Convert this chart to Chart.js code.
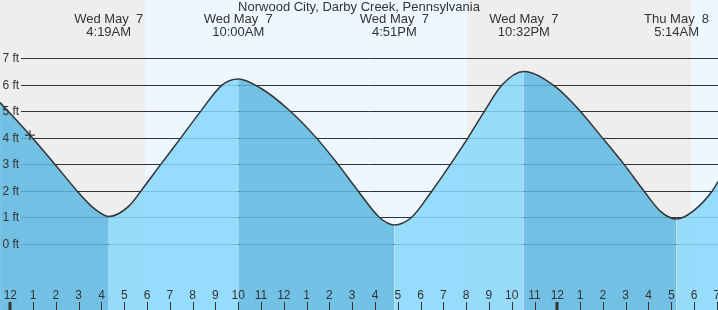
<!DOCTYPE html>
<html>
<head>
<meta charset="utf-8">
<script src="https://cdn.jsdelivr.net/npm/chart.js@4.4.1/dist/chart.umd.min.js"></script>
<style>
  body { margin: 0; background: #fff; }
  #wrap { width: 718px; height: 310px; position: relative; }
</style>
</head>
<body>
<div id="wrap"><canvas id="tideChart"></canvas></div>
<script>
// hours after midnight Wed May 7, and tide height (ft)
const tideHours = [-0.45, 0.86, 1.96, 2.91, 3.66, 4.32, 5.18, 5.87, 6.6, 7.48, 8.35, 9.3, 10.0,
    10.99, 12.19, 13.43, 14.38, 15.26, 16.2, 16.85, 17.6, 18.5, 19.31, 20.08, 20.8, 21.58, 22.53,
    23.91, 24.8, 25.98, 26.93, 27.8, 28.54, 29.23, 29.93, 30.8, 31.05];
const tideFeet = [5.33, 4.11, 3.0, 2.02, 1.35, 1.04, 1.41, 2.16, 3.0, 4.0, 5.0, 6.0, 6.22,
    5.87, 5.08, 4.0, 3.0, 2.0, 1.0, 0.72, 1.0, 2.0, 3.0, 4.0, 5.0, 6.0, 6.5,
    5.93, 5.2, 4.0, 3.0, 2.0, 1.22, 0.94, 1.22, 2.0, 2.35];

// high / low tide times shown at the top
const extremeHours = [4.317, 10.0, 16.85, 22.533, 29.233];
const extremeDays = ['Wed May  7', 'Wed May  7', 'Wed May  7', 'Wed May  7', 'Thu May  8'];
const extremeTimes = ['4:19AM', '10:00AM', '4:51PM', '10:32PM', '5:14AM'];

// current time marker
const nowHour = 0.86;
const nowFeet = 4.1;

// sunrise / sunset as [start, end] of daylight
const daylight = [[5.9, 20.04], [29.87, 40]];

const feetTicks = [0, 1, 2, 3, 4, 5, 6, 7];
const hourLabels = ['12', '1', '2', '3', '4', '5', '6', '7', '8', '9', '10', '11',
    '12', '1', '2', '3', '4', '5', '6', '7', '8', '9', '10', '11',
    '12', '1', '2', '3', '4', '5', '6', '7'];

const title = 'Norwood City, Darby Creek, Pennsylvania';

const NIGHT = '#eeeeee';
const DAY = '#eef7ff';
const FALLING = 'rgba(92, 184, 226, 0.85)';
const RISING = 'rgba(134, 215, 251, 0.85)';
const INK = '#333333';
const FONT = '"Liberation Sans", Arial, sans-serif';

// Background bands and grid lines, drawn before the tide fill
const backdrop = {
    id: 'backdrop',
    beforeDatasetsDraw(chart) {
        const {ctx, chartArea: a, scales: {x, y}} = chart;
        ctx.save();
        ctx.fillStyle = NIGHT;
        ctx.fillRect(a.left, a.top, a.width, a.height);
        ctx.fillStyle = DAY;
        daylight.forEach(([s, e]) => {
            const x0 = Math.max(a.left, x.getPixelForValue(s));
            const x1 = Math.min(a.right, x.getPixelForValue(e));
            ctx.fillRect(Math.round(x0), a.top, Math.round(x1) - Math.round(x0), a.height);
        });
        ctx.strokeStyle = INK;
        ctx.lineWidth = 1;
        feetTicks.forEach(v => {
            const py = Math.round(y.getPixelForValue(v)) + 0.5;
            ctx.beginPath();
            ctx.moveTo(21, py);
            ctx.lineTo(a.right, py);
            ctx.stroke();
        });
        ctx.restore();
    }
};

// All the text: title, tide times, foot labels and hour axis
const labels = {
    id: 'labels',
    afterDatasetsDraw(chart) {
        const {ctx, chartArea: a, scales: {x, y}} = chart;
        ctx.save();
        ctx.fillStyle = INK;
        ctx.textBaseline = 'middle';

        ctx.font = '13px ' + FONT;
        ctx.textAlign = 'center';
        ctx.fillText(title, 359, 7);
        extremeHours.forEach((h, i) => {
            const px = x.getPixelForValue(h);
            ctx.fillText(extremeDays[i], px, 19.5);
            ctx.fillText(extremeTimes[i], px, 32);
        });

        ctx.font = '12px ' + FONT;
        ctx.textAlign = 'left';
        feetTicks.forEach(v => {
            ctx.fillText(v + ' ft', 2.5, y.getPixelForValue(v) + 0.5);
        });

        ctx.textAlign = 'center';
        ctx.strokeStyle = INK;
        hourLabels.forEach((lab, h) => {
            const px = x.getPixelForValue(h);
            ctx.fillText(lab, px, 296);
            const thick = h % 24 === 0;
            if (thick) {
                ctx.fillRect(Math.round(px) - 1.5, 302, 3, a.bottom - 302);
            } else {
                ctx.lineWidth = 1;
                ctx.beginPath();
                ctx.moveTo(Math.round(px) + 0.5, 302);
                ctx.lineTo(Math.round(px) + 0.5, a.bottom);
                ctx.stroke();
            }
        });
        ctx.restore();
    }
};

new Chart(document.getElementById('tideChart'), {
    type: 'line',
    data: {
        datasets: [{
            data: tideHours.map((h, i) => ({x: h, y: tideFeet[i]})),
            borderColor: INK,
            borderWidth: 1.5,
            pointRadius: 0,
            cubicInterpolationMode: 'monotone',
            fill: 'start',
            backgroundColor: RISING,
            segment: {
                backgroundColor: c => c.p1.parsed.y < c.p0.parsed.y ? FALLING : RISING
            },
            order: 2
        }, {
            data: [{x: nowHour, y: nowFeet}],
            showLine: false,
            pointStyle: 'cross',
            pointRadius: 5,
            borderColor: INK,
            borderWidth: 1.2,
            order: 1
        }]
    },
    options: {
        responsive: true,
        maintainAspectRatio: false,
        animation: false,
        layout: {padding: 0, autoPadding: false},
        scales: {
            x: {type: 'linear', min: -0.452, max: 31.05, display: false},
            y: {type: 'linear', min: -2.488, max: 9.197, display: false}
        },
        plugins: {
            legend: {display: false},
            tooltip: {enabled: false}
        }
    },
    plugins: [backdrop, labels]
});
</script>
</body>
</html>
